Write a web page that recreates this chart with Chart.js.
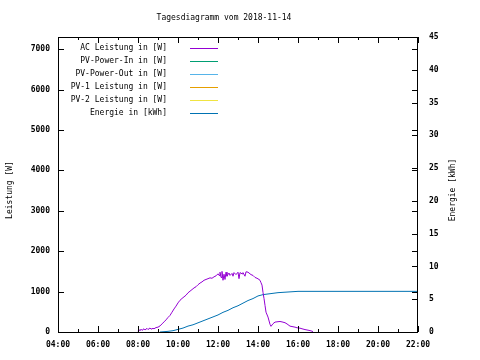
<!DOCTYPE html>
<html lang="de">
  <head>
    <meta charset="UTF-8" />
    <title>Tagesdiagramm</title>
    <script src="https://cdn.jsdelivr.net/npm/chart.js"></script>
    <style>
      html, body { margin: 0; padding: 0; background: #fff; }
      #wrap { width: 480px; height: 360px; }
    </style>
  </head>
  <body>
    <div id="wrap"><canvas id="tagChart" width="480" height="360"></canvas></div>
    <script>
      const titleText = "Tagesdiagramm vom 2018-11-14";
      const seriesLabels = [
        "AC Leistung in [W]",
        "PV-Power-In in [W]",
        "PV-Power-Out in [W]",
        "PV-1 Leistung in [W]",
        "PV-2 Leistung in [W]",
        "Energie in [kWh]",
      ];
      const seriesColors = ["#9400d3", "#009e73", "#56b4e9", "#e69f00", "#f0e442", "#0072b2"];
      const leftTicks = [0, 1000, 2000, 3000, 4000, 5000, 6000, 7000];
      const rightTicks = [0, 5, 10, 15, 20, 25, 30, 35, 40, 45];

      // AC Leistung [W]
      const acTimes = [
        "08:00", "08:03", "08:06", "08:09", "08:12", "08:18", "08:21", "08:27", "08:30", "08:36",
        "08:39", "08:45", "08:48", "08:54", "09:00", "09:06", "09:12", "09:18", "09:24", "09:30",
        "09:36", "09:42", "09:48", "09:54", "10:00", "10:06", "10:12", "10:18", "10:24", "10:30",
        "10:36", "10:42", "10:48", "10:54", "11:00", "11:06", "11:12", "11:18", "11:24", "11:30",
        "11:36", "11:42", "11:48", "11:54", "12:00", "12:03", "12:06", "12:09", "12:12", "12:15",
        "12:18", "12:21", "12:24", "12:27", "12:30", "12:33", "12:36", "12:42", "12:45", "12:48",
        "12:54", "13:00", "13:03", "13:06", "13:12", "13:15", "13:21", "13:24", "13:30", "13:33",
        "13:39", "13:45", "13:51", "13:57", "14:03", "14:06", "14:09", "14:12", "14:15", "14:18",
        "14:21", "14:24", "14:30", "14:36", "14:39", "14:45", "14:51", "15:00", "15:06", "15:12",
        "15:21", "15:27", "15:36", "15:42", "15:51", "15:57", "16:06", "16:12", "16:21", "16:27",
        "16:36", "16:42", "16:45",
      ];
      const acWatts = [
        20, 60, 30, 70, 40, 80, 50, 90, 60, 100,
        70, 90, 80, 110, 120, 150, 200, 250, 300, 360,
        410, 490, 570, 640, 720, 785, 830, 870, 910, 970,
        1010, 1050, 1090, 1120, 1170, 1210, 1240, 1280, 1300, 1320,
        1340, 1330, 1365, 1390, 1440, 1400, 1480, 1350, 1500, 1280,
        1430, 1300, 1480, 1380, 1420, 1460, 1400, 1450, 1380, 1470,
        1420, 1480, 1320, 1470, 1440, 1470, 1380, 1490, 1480, 1460,
        1420, 1400, 1350, 1330, 1300, 1280, 1220, 1160, 980, 830,
        660, 490, 370, 190, 140, 205, 245, 255, 260, 250,
        230, 200, 145, 135, 120, 105, 95, 80, 60, 50,
        35, 20, 10,
      ];

      // Energie [kWh]
      const energyTimes = [
        "09:06", "09:30", "09:45", "10:00", "10:15", "10:30", "10:45", "11:00", "11:15", "11:30",
        "11:45", "12:00", "12:15", "12:30", "12:45", "13:00", "13:15", "13:30", "13:45", "14:00",
        "14:15", "14:30", "14:45", "15:00", "15:30", "16:00", "16:45", "22:00",
      ];
      const energyKwh = [
        0, 0.1, 0.2, 0.4, 0.6, 0.9, 1.1, 1.4, 1.7, 2.0,
        2.3, 2.6, 3.0, 3.3, 3.7, 4.0, 4.4, 4.8, 5.1, 5.5,
        5.7, 5.8, 5.9, 6.0, 6.1, 6.2, 6.2, 6.2,
      ];

      const xMin = 4, xMax = 22;
      const leftMax = 7300, rightMax = 45;

      function toHours(t) {
        const p = t.split(":");
        return Number(p[0]) + Number(p[1]) / 60;
      }
      function points(times, values) {
        return times.map((t, i) => ({ x: toHours(t), y: values[i] }));
      }

      const FONT = "DejaVu Sans Mono";

      // gnuplot style: box border, inward ticks, title, axis titles, legend
      const gnuplotLook = {
        id: "gnuplotLook",
        afterDraw(chart) {
          const ctx = chart.ctx;
          const a = chart.chartArea;
          const sx = chart.scales.x, sy = chart.scales.y, sy2 = chart.scales.y2;
          ctx.save();
          ctx.strokeStyle = "#000";
          ctx.lineWidth = 1;
          ctx.strokeRect(a.left + 0.5, a.top + 0.5, a.right - a.left - 1, a.bottom - a.top);

          ctx.beginPath();
          for (let h = xMin; h <= xMax; h++) {
            const px = Math.round(sx.getPixelForValue(h)) + 0.5;
            const len = h % 2 === 0 ? 6 : 3;
            ctx.moveTo(px, a.bottom); ctx.lineTo(px, a.bottom - len);
            ctx.moveTo(px, a.top); ctx.lineTo(px, a.top + len);
          }
          leftTicks.forEach((v) => {
            const py = Math.round(sy.getPixelForValue(v)) + 0.5;
            ctx.moveTo(a.left, py); ctx.lineTo(a.left + 6, py);
            ctx.moveTo(a.right, py); ctx.lineTo(a.right - 6, py);
          });
          rightTicks.forEach((v) => {
            const py = Math.round(sy2.getPixelForValue(v)) + 0.5;
            ctx.moveTo(a.right, py); ctx.lineTo(a.right - 6, py);
          });
          ctx.stroke();

          ctx.fillStyle = "#000";
          ctx.font = "8px '" + FONT + "'";
          ctx.textBaseline = "middle";
          ctx.textAlign = "center";
          ctx.fillText(titleText, 224, 18);

          ctx.save();
          ctx.translate(10, 190);
          ctx.rotate(-Math.PI / 2);
          ctx.fillText("Leistung [W]", 0, 0);
          ctx.restore();
          ctx.save();
          ctx.translate(453, 190);
          ctx.rotate(-Math.PI / 2);
          ctx.fillText("Energie [kWh]", 0, 0);
          ctx.restore();

          ctx.textAlign = "right";
          chart.data.datasets.forEach((ds, i) => {
            const y = 48 + 13 * i;
            ctx.fillStyle = "#000";
            ctx.fillText(ds.label, 167, y);
            ctx.strokeStyle = ds.borderColor;
            ctx.beginPath();
            ctx.moveTo(190, y + 0.5);
            ctx.lineTo(218, y + 0.5);
            ctx.stroke();
          });
          ctx.restore();
        },
      };

      function lineSet(idx, data, axis) {
        return {
          label: seriesLabels[idx],
          data: data,
          yAxisID: axis,
          borderColor: seriesColors[idx],
          backgroundColor: seriesColors[idx],
          borderWidth: 1,
          pointRadius: 0,
          tension: 0,
          fill: false,
        };
      }

      const tickFont = { family: FONT, size: 8, weight: "bold" };

      new Chart(document.getElementById("tagChart").getContext("2d"), {
        type: "line",
        data: {
          datasets: [
            lineSet(0, points(acTimes, acWatts), "y"),
            lineSet(1, [], "y"),
            lineSet(2, [], "y"),
            lineSet(3, [], "y"),
            lineSet(4, [], "y"),
            lineSet(5, points(energyTimes, energyKwh), "y2"),
          ],
        },
        options: {
          responsive: false,
          animation: false,
          layout: { padding: { top: 37, left: 0, right: 0, bottom: 0 } },
          plugins: { legend: { display: false }, title: { display: false }, tooltip: { enabled: false } },
          scales: {
            x: {
              type: "linear",
              min: xMin,
              max: xMax,
              grid: { display: false, drawTicks: false },
              border: { display: false },
              ticks: {
                stepSize: 2,
                color: "#000",
                font: tickFont,
                padding: 8,
                maxRotation: 0,
                callback: (v) => (v < 10 ? "0" : "") + v + ":00",
              },
              afterFit: (s) => { s.height = 28; },
            },
            y: {
              position: "left",
              min: 0,
              max: leftMax,
              grid: { display: false, drawTicks: false },
              border: { display: false },
              afterBuildTicks: (s) => { s.ticks = leftTicks.map((v) => ({ value: v })); },
              ticks: { color: "#000", font: tickFont, padding: 8, callback: (v) => String(v) },
              afterFit: (s) => { s.width = 58; },
            },
            y2: {
              position: "right",
              min: 0,
              max: rightMax,
              grid: { display: false, drawTicks: false },
              border: { display: false },
              afterBuildTicks: (s) => { s.ticks = rightTicks.map((v) => ({ value: v })); },
              ticks: { color: "#000", font: tickFont, padding: 11, callback: (v) => String(v) },
              afterFit: (s) => { s.width = 62; },
            },
          },
        },
        plugins: [gnuplotLook],
      });
    </script>
  </body>
</html>
